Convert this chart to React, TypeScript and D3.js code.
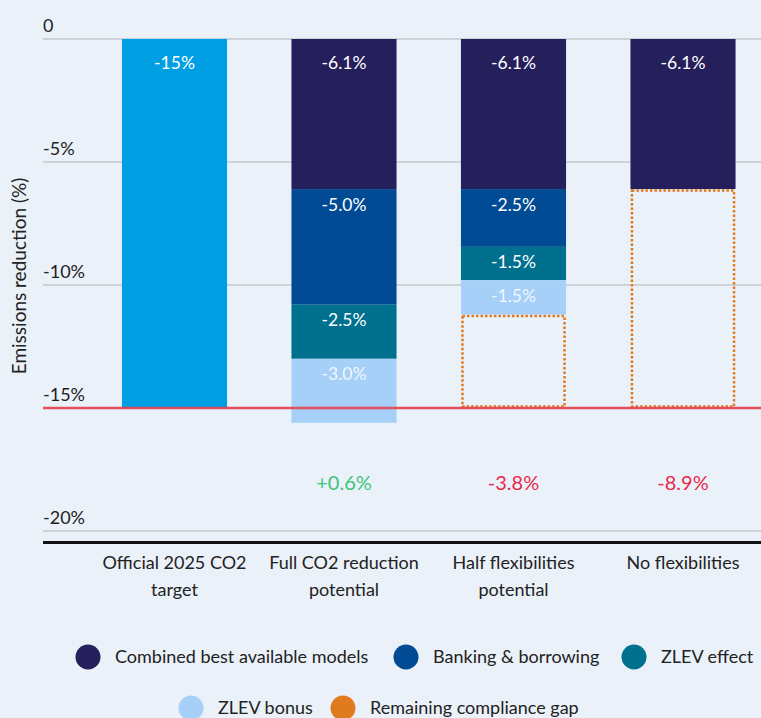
import React from 'react';
import * as d3 from 'd3';

// Scenario categories (two-line axis labels)
const CATEGORY_LINES = [
  ['Official 2025 CO2', 'target'],
  ['Full CO2 reduction', 'potential'],
  ['Half flexibilities', 'potential'],
  ['No flexibilities'],
];
const categories = CATEGORY_LINES.map(l => l.join(' '));

// Segment sizes as drawn (percentage points of reduction)
const officialTarget = [15, 0, 0, 0];
const bestModels = [0, 6.1, 6.1, 6.1];
const banking = [0, 4.7, 2.35, 0];
const zlevEffect = [0, 2.2, 1.35, 0];
const zlevBonus = [0, 2.6, 1.4, 0];
const complianceGap = [0, 0, 3.8, 8.9];

// Labels printed in the segments
const officialLabels = ['-15%', '', '', ''];
const bestModelsLabels = ['', '-6.1%', '-6.1%', '-6.1%'];
const bankingLabels = ['', '-5.0%', '-2.5%', ''];
const zlevEffectLabels = ['', '-2.5%', '-1.5%', ''];
const zlevBonusLabels = ['', '-3.0%', '-1.5%', ''];
const balanceLabels = ['', '+0.6%', '-3.8%', '-8.9%'];

const yTicks = [0, 5, 10, 15, 20];
const yTickLabels = ['0', '-5%', '-10%', '-15%', '-20%'];
const TARGET = 15;

const COLORS: { [k: string]: string } = {
  official: '#009fe3',
  best: '#251f5c',
  banking: '#004b93',
  zlevEffect: '#00708f',
  zlevBonus: '#a6d0f7',
  gap: '#e07a1f',
};

const LEGEND = [
  { key: 'best', label: 'Combined best available models', x: 88, y: 657 },
  { key: 'banking', label: 'Banking & borrowing', x: 406, y: 657 },
  { key: 'zlevEffect', label: 'ZLEV effect', x: 634, y: 657 },
  { key: 'zlevBonus', label: 'ZLEV bonus', x: 191, y: 708 },
  { key: 'gap', label: 'Remaining compliance gap', x: 343, y: 708 },
];

const FONT = 'Lato, "Noto Sans", sans-serif';
const W = 761;
const H = 718;

const App: React.FC = () => {
  const x = d3.scaleBand<string>()
    .domain(categories)
    .range([89.75, 767.75])
    .paddingInner(0.38)
    .paddingOuter(0.19);

  const y = d3.scaleLinear().domain([0, 20]).range([39, 531]);

  const rows = categories.map((c, i) => ({
    cat: c,
    official: officialTarget[i],
    best: bestModels[i],
    banking: banking[i],
    zlevEffect: zlevEffect[i],
    zlevBonus: zlevBonus[i],
  }));
  const keys = ['official', 'best', 'banking', 'zlevEffect', 'zlevBonus'];
  const labelsFor: { [k: string]: string[] } = {
    official: officialLabels,
    best: bestModelsLabels,
    banking: bankingLabels,
    zlevEffect: zlevEffectLabels,
    zlevBonus: zlevBonusLabels,
  };
  const series = d3.stack<any>().keys(keys)(rows);

  const bw = x.bandwidth();

  return (
    <svg width={W} height={H} style={{ display: 'block', position: 'absolute', left: 0, top: 0, background: '#ebf1f9' }} fontFamily={FONT}>
      <rect width={W} height={H} fill="#ebf1f9" />

      {/* grid lines + tick labels */}
      {yTicks.map((t, i) => (
        <g key={t}>
          <line x1={43} x2={W} y1={y(t)} y2={y(t)} stroke="#c3c7ce" strokeWidth={1.5} />
          <text x={43} y={y(t) - 7} fontSize={18} fill="#222">{yTickLabels[i]}</text>
        </g>
      ))}

      <text
        transform="translate(26,276) rotate(-90)"
        textAnchor="middle"
        fontSize={19}
        fill="#222"
      >Emissions reduction (%)</text>

      {/* stacked segments */}
      {series.map(s => (
        <g key={s.key} fill={COLORS[s.key]}>
          {s.map((d, i) => d[1] - d[0] > 0 ? (
            <rect key={i} x={x(categories[i])} y={y(d[0])} width={bw} height={y(d[1]) - y(d[0])} />
          ) : null)}
        </g>
      ))}

      {/* remaining compliance gap (dotted outline) */}
      {categories.map((c, i) => {
        if (complianceGap[i] <= 0) return null;
        const top = y(TARGET - complianceGap[i]);
        return (
          <rect key={c} x={(x(c) as number) + 1.5} y={top + 1.5} width={bw - 3} height={y(TARGET) - top - 3}
            fill="none" stroke={COLORS.gap} strokeWidth={2.5} strokeDasharray="2.5 2" />
        );
      })}

      {/* segment labels */}
      {series.map(s => (
        <g key={s.key + '-lab'}>
          {s.map((d, i) => labelsFor[s.key][i] ? (
            <text key={i} x={(x(categories[i]) as number) + bw / 2} y={y(d[0]) + (d[0] === 0 ? 30 : 21.5)}
              textAnchor="middle" fontSize={17.5} fill="#fff"
              fillOpacity={s.key === 'zlevBonus' ? 0.85 : 1}>
              {labelsFor[s.key][i]}
            </text>
          ) : null)}
        </g>
      ))}

      {/* target line */}
      <line x1={43} x2={W} y1={y(TARGET)} y2={y(TARGET)} stroke="#e8404f" strokeOpacity={0.9} strokeWidth={2.5} />

      {/* balance vs target */}
      {categories.map((c, i) => balanceLabels[i] ? (
        <text key={c} x={(x(c) as number) + bw / 2} y={490} textAnchor="middle" fontSize={20}
          fill={balanceLabels[i].startsWith('+') ? '#3cc47c' : '#e8294a'}>
          {balanceLabels[i]}
        </text>
      ) : null)}

      {/* x axis */}
      <line x1={43} x2={W} y1={542.5} y2={542.5} stroke="#111" strokeWidth={3} />
      {CATEGORY_LINES.map((lines, i) => (
        <text key={i} textAnchor="middle" fontSize={18} fill="#222">
          {lines.map((l, j) => (
            <tspan key={j} x={(x(categories[i]) as number) + bw / 2} y={569 + j * 27}>{l}</tspan>
          ))}
        </text>
      ))}

      {/* legend */}
      {LEGEND.map(l => (
        <g key={l.key}>
          <circle cx={l.x} cy={l.y} r={12.5} fill={COLORS[l.key]} />
          <text x={l.x + 27} y={l.y + 6} fontSize={18} fill="#222">{l.label}</text>
        </g>
      ))}
    </svg>
  );
};

export default App;
